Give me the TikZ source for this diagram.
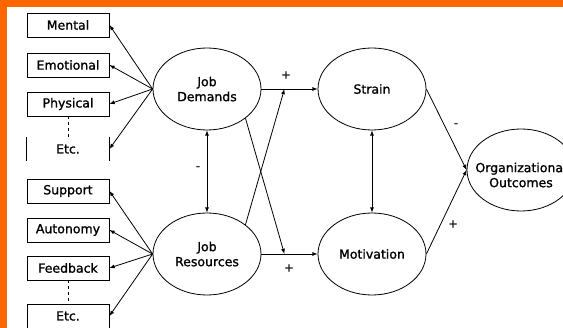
\documentclass[tikz,border=0pt]{standalone}
\usepackage{fontspec}
\setmainfont{DejaVu Sans}[BoldFont=DejaVu Sans, BoldFeatures={FakeBold=1.2}]
\usetikzlibrary{shapes.geometric}
\definecolor{frame}{HTML}{FF6600}

\tikzset{
  itembox/.style={draw, line width=0.9pt, minimum width=82pt, minimum height=24pt, inner sep=0pt},
  factor/.style={draw, ellipse, line width=0.8pt, minimum width=108pt, minimum height=82pt, align=center, inner sep=0pt},
  link/.style={->, >=latex, line width=0.8pt},
  sign/.style={inner sep=1pt, font=\fontsize{11}{12}\selectfont\bfseries}
}

\begin{document}
\begin{tikzpicture}[x=1pt, y=-1pt, font=\fontsize{12.5}{15}\selectfont\bfseries]
  \useasboundingbox (0,0) rectangle (563,328);
  \clip (0,0) rectangle (563,328);
  \fill[white] (0,0) rectangle (563,328);
  \fill[frame] (0,0) rectangle (563,7);
  \fill[frame] (0,0) rectangle (7,328);

  % the four factors and the outcome
  \node[factor] (jd) at (207,89) {Job\\Demands};
  \node[factor] (jr) at (207,254) {Job\\Resources};
  \node[factor] (st) at (372,89) {Strain};
  \node[factor] (mo) at (372,254) {Motivation};
  \node[factor] (oo) at (521,170) {};
  \node[align=center] (ootext) at (521,175) {Organizational\\Outcomes};

  % demands and resources, item by item
  \def \bx {68}
  \foreach \name/\txt/\y in {mental/Mental/25, emot/Emotional/65, phys/Physical/104,
                             supp/Support/191, auto/Autonomy/230, feed/Feedback/268, etcB/Etc./316}
  {
    \node[itembox] (\name) at (\bx,\y) {\txt};
  }
  \node[itembox, draw=none] (etcA) at (\bx,149) {Etc.};
  \draw[line width=0.9pt] (etcA.north west) -- (etcA.south west)
                          (etcA.north east) -- (etcA.south east);
  \draw[dash pattern=on 3pt off 3pt] (phys.south) -- (etcA.north);
  \draw[dash pattern=on 3pt off 3pt] (feed.south) -- (etcB.north);

  \foreach \name in {mental,emot,phys,etcA}
    \draw[link] (jd.west) -- (\name.east);
  \foreach \name in {supp,auto,feed,etcB}
    \draw[link] (jr.west) -- (\name.east);

  % paths between the factors
  \draw[link] (jd.east) -- coordinate[pos=0.41] (hitS) (st.west);
  \draw[link] (jr.east) -- coordinate[pos=0.41] (hitM) (mo.west);
  \draw[link] (jr.north east) -- (hitS);
  \draw[link] (jd.south east) -- (hitM);
  \draw[link, <->] (jd.south) -- (jr.north);
  \draw[link, <->] (st.south) -- (mo.north);
  \draw[link] (st.east) -- (oo.west);
  \draw[link] (mo.east) -- (oo.west);

  % signs
  \node[sign] (pDS) at (286,75) {+};
  \node[sign] (mDR) at (198,168) {-};
  \node[sign] (pRM) at (289,268) {+};
  \node[sign] (mSO) at (456,125) {-};
  \node[sign] (pMO) at (453,224) {+};
\end{tikzpicture}
\end{document}
